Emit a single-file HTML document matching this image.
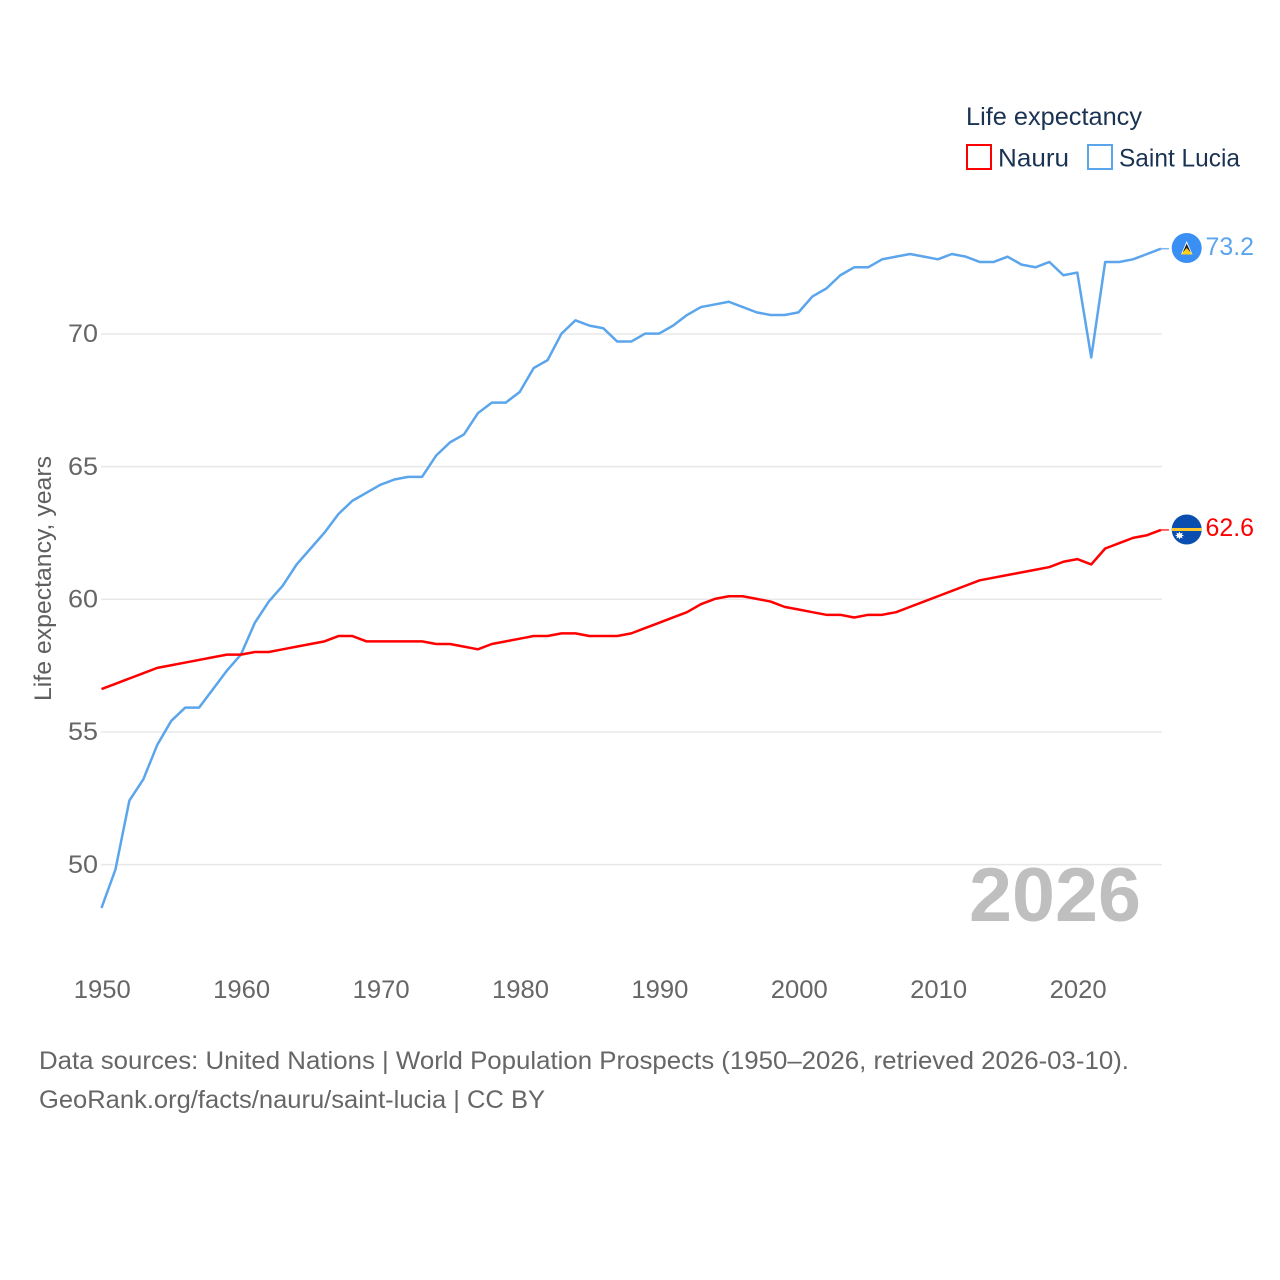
<!DOCTYPE html>
<html lang="en">
<head>
<meta charset="utf-8">
<title>Life expectancy: Nauru and Saint Lucia</title>
<style>
html,body{margin:0;padding:0;background:#fff;}
svg{display:block;}
text{font-family:"Liberation Sans",sans-serif;}
</style>
</head>
<body>
<svg id="chart" xmlns="http://www.w3.org/2000/svg" width="1280" height="1280" viewBox="0 0 1280 1280">
  <defs>
    <clipPath id="flag-clip-lc"><circle cx="1186.7" cy="248" r="15"/></clipPath>
    <clipPath id="flag-clip-nr"><circle cx="1186.7" cy="529.5" r="15"/></clipPath>
  </defs>
  <g id="grid"></g>
  <g id="yticks"></g>
  <g id="xticks"></g>
  <text transform="translate(51,701) rotate(-90)" font-size="24" fill="#5f5f5f" textLength="245" lengthAdjust="spacingAndGlyphs">Life expectancy, years</text>
  <text x="969" y="921" font-size="76" font-weight="700" fill="#bfbfbf" textLength="172" lengthAdjust="spacingAndGlyphs">2026</text>
  <g id="series" transform="translate(0,-0.4)"></g>

  <g>
    <text x="966" y="125" font-size="25" fill="#1a3353" textLength="176" lengthAdjust="spacingAndGlyphs">Life expectancy</text>
    <rect x="967" y="145" width="24" height="24" fill="#fff" stroke="#ff0000" stroke-width="2"/>
    <text x="998" y="166.5" font-size="25" fill="#1a3353" textLength="71" lengthAdjust="spacingAndGlyphs">Nauru</text>
    <rect x="1088" y="145" width="24" height="24" fill="#fff" stroke="#5ba5ec" stroke-width="2"/>
    <text x="1119" y="166.5" font-size="25" fill="#1a3353" textLength="121" lengthAdjust="spacingAndGlyphs">Saint Lucia</text>
  </g>

  <g clip-path="url(#flag-clip-lc)">
    <rect x="1171" y="232" width="32" height="32" fill="#3a8ff5"/>
    <polygon points="1186.7,241 1192.5,254.5 1181,254.5" fill="#ffffff"/>
    <polygon points="1186.7,243.5 1190.6,252 1182.9,252" fill="#222222"/>
    <polygon points="1186.7,248 1192.5,254.5 1181,254.5" fill="#fcd116"/>
  </g>
  <g clip-path="url(#flag-clip-nr)">
    <rect x="1171" y="514" width="32" height="32" fill="#0a4fb0"/>
    <rect x="1171" y="528" width="32" height="3" fill="#fcc72e"/>
    <polygon points="1179.5,531.5 1180.5,533.6 1182.6,532.6 1181.9,534.8 1184,535.5 1181.9,536.2 1182.6,538.4 1180.5,537.4 1179.5,539.5 1178.5,537.4 1176.4,538.4 1177.1,536.2 1175,535.5 1177.1,534.8 1176.4,532.6 1178.5,533.6" fill="#ffffff"/>
  </g>

  <text x="1205.5" y="255" font-size="25" fill="#5ba5ec" textLength="48.5" lengthAdjust="spacingAndGlyphs">73.2</text>
  <text x="1205.5" y="536" font-size="25" fill="#ff0000" textLength="48.5" lengthAdjust="spacingAndGlyphs">62.6</text>

  <text x="39" y="1069" font-size="25" fill="#666666" textLength="1090" lengthAdjust="spacingAndGlyphs">Data sources: United Nations | World Population Prospects (1950–2026, retrieved 2026-03-10).</text>
  <a><text x="39" y="1108" font-size="25" fill="#666666" textLength="506" lengthAdjust="spacingAndGlyphs">GeoRank.org/facts/nauru/saint-lucia | CC BY</text></a>
</svg>
<script>
const startYear = 1950;
const xTickYears = [1950, 1960, 1970, 1980, 1990, 2000, 2010, 2020];
const yTickValues = [50, 55, 60, 65, 70];
const saintLuciaValues = [
  48.35, 49.8, 52.4, 53.2, 54.5, 55.4, 55.9, 55.9, 56.6, 57.3,
  57.9, 59.1, 59.9, 60.5, 61.3, 61.9, 62.5, 63.2, 63.7, 64.0,
  64.3, 64.5, 64.6, 64.6, 65.4, 65.9, 66.2, 67.0, 67.4, 67.4,
  67.8, 68.7, 69.0, 70.0, 70.5, 70.3, 70.2, 69.7, 69.7, 70.0,
  70.0, 70.3, 70.7, 71.0, 71.1, 71.2, 71.0, 70.8, 70.7, 70.7,
  70.8, 71.4, 71.7, 72.2, 72.5, 72.5, 72.8, 72.9, 73.0, 72.9,
  72.8, 73.0, 72.9, 72.7, 72.7, 72.9, 72.6, 72.5, 72.7, 72.2,
  72.3, 69.1, 72.7, 72.7, 72.8, 73.0, 73.2
];
const nauruValues = [
  56.6, 56.8, 57.0, 57.2, 57.4, 57.5, 57.6, 57.7, 57.8, 57.9,
  57.9, 58.0, 58.0, 58.1, 58.2, 58.3, 58.4, 58.6, 58.6, 58.4,
  58.4, 58.4, 58.4, 58.4, 58.3, 58.3, 58.2, 58.1, 58.3, 58.4,
  58.5, 58.6, 58.6, 58.7, 58.7, 58.6, 58.6, 58.6, 58.7, 58.9,
  59.1, 59.3, 59.5, 59.8, 60.0, 60.1, 60.1, 60.0, 59.9, 59.7,
  59.6, 59.5, 59.4, 59.4, 59.3, 59.4, 59.4, 59.5, 59.7, 59.9,
  60.1, 60.3, 60.5, 60.7, 60.8, 60.9, 61.0, 61.1, 61.2, 61.4,
  61.5, 61.3, 61.9, 62.1, 62.3, 62.4, 62.6
];

const NS = 'http://www.w3.org/2000/svg';
function xScale(year) { return 101.5 + (year - 1950) * 13.94; }
function yScale(v) { return 334 + (70 - v) * 26.53; }
function make(tag, attrs, parent) {
  const el = document.createElementNS(NS, tag);
  for (const k in attrs) el.setAttribute(k, attrs[k]);
  parent.appendChild(el);
  return el;
}
const gridG = document.getElementById('grid');
const yG = document.getElementById('yticks');
const xG = document.getElementById('xticks');
const seriesG = document.getElementById('series');

yTickValues.forEach(function (v) {
  const line = make('line', {x1: 101, x2: 1162, y1: yScale(v), y2: yScale(v), stroke: '#e8e8e8', 'stroke-width': 1.5}, gridG);
  
  
  const t = make('text', {x: 98, y: yScale(v) + 8.2, 'text-anchor': 'end', 'font-size': 25, fill: '#666666', textLength: 30, lengthAdjust: 'spacingAndGlyphs'}, yG);
  t.textContent = String(v);
  
  
});

xTickYears.forEach(function (y) {
  const t = make('text', {x: xScale(y) + 0.8, y: 998, 'text-anchor': 'middle', 'font-size': 25, fill: '#666666', textLength: 57, lengthAdjust: 'spacingAndGlyphs'}, xG);
  t.textContent = String(y);
  
  
});

function drawSeries(values, color, name) {
  const pts = values.map(function (v, i) {
    return xScale(startYear + i).toFixed(2) + ',' + yScale(v).toFixed(2);
  }).join(' ');
  const line = make('polyline', {points: pts, fill: 'none', stroke: color, 'stroke-width': 2.5, 'stroke-linejoin': 'round'}, seriesG);
  
  
  const lastX = xScale(startYear + values.length - 1);
  const lastY = yScale(values[values.length - 1]);
  const conn = make('line', {x1: lastX, x2: lastX + 8, y1: lastY, y2: lastY, stroke: color, 'stroke-width': 1.5, 'stroke-opacity': 0.8}, seriesG);
  
  
}
drawSeries(saintLuciaValues, '#5ba5ec', 'line-saint-lucia');
drawSeries(nauruValues, '#ff0000', 'line-nauru');
</script>
</body>
</html>
